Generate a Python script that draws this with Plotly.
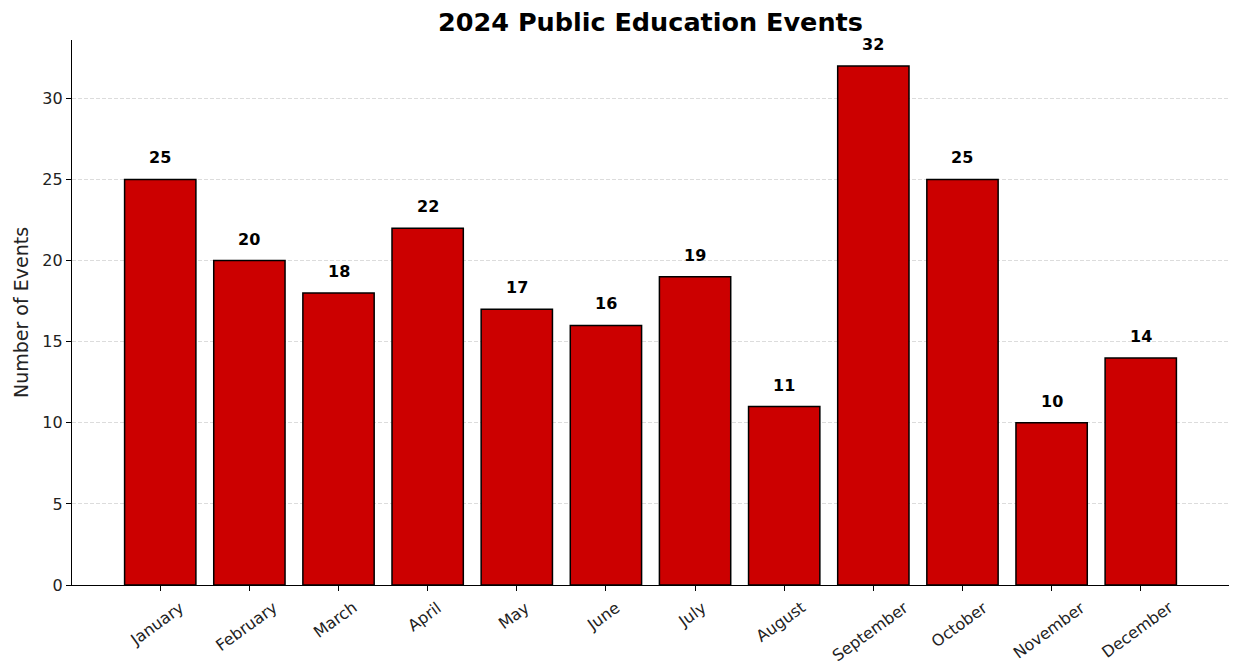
import plotly.graph_objects as go

months = ["January", "February", "March", "April", "May", "June", "July",
          "August", "September", "October", "November", "December"]
events = [25, 20, 18, 22, 17, 16, 19, 11, 32, 25, 10, 14]

FONT = "DejaVu Sans"

fig = go.Figure()
fig.add_trace(go.Bar(
    x=list(range(len(months))), y=events, width=0.8,
    marker=dict(color="#cc0000", line=dict(color="black", width=1.5)),
    hoverinfo="skip",
))

for i, v in enumerate(events):
    fig.add_annotation(x=i, y=v, text=f"<b>{v}</b>", showarrow=False,
                       yanchor="bottom", xanchor="center", yshift=10,
                       font=dict(family=FONT, size=16, color="black"))

# month labels, rotated about their centre (matplotlib style)
for i, m in enumerate(months):
    fig.add_annotation(x=i, y=0, yref="paper", text=m, showarrow=False,
                       textangle=-36, xanchor="center", yanchor="top",
                       yshift=-10, xshift=-3,
                       font=dict(family=FONT, size=16, color="#222"))

fig.update_layout(
    width=1233, height=666,
    margin=dict(l=72, r=4, t=40, b=81),
    plot_bgcolor="white", paper_bgcolor="white",
    showlegend=False,
    title=dict(text="<b>2024 Public Education Events</b>", x=0.5, xanchor="center",
               xref="paper", y=1 - 22 / 666, yanchor="middle",
               font=dict(family=FONT, size=25.5, color="black")),
    font=dict(family=FONT, size=16, color="#222"),
)
fig.update_xaxes(
    range=[-0.99, 11.99], tickmode="array", tickvals=list(range(len(months))),
    showticklabels=False, ticks="outside", ticklen=5, tickcolor="black",
    showline=True, linecolor="black", linewidth=1.2, showgrid=False, zeroline=False,
)
fig.update_yaxes(
    range=[0, 33.6], tickvals=[0, 5, 10, 15, 20, 25, 30], ticks="outside", ticklen=5,
    tickcolor="black", showline=True, linecolor="black", linewidth=1.2,
    showgrid=True, gridcolor="#dcdcdc", griddash="4px,2px", gridwidth=0.8,
    zeroline=False,
    title=dict(text="Number of Events", font=dict(family=FONT, size=19, color="#222"),
               standoff=8),
    tickfont=dict(family=FONT, size=16, color="#222"),
)

fig.write_html("out.html")
